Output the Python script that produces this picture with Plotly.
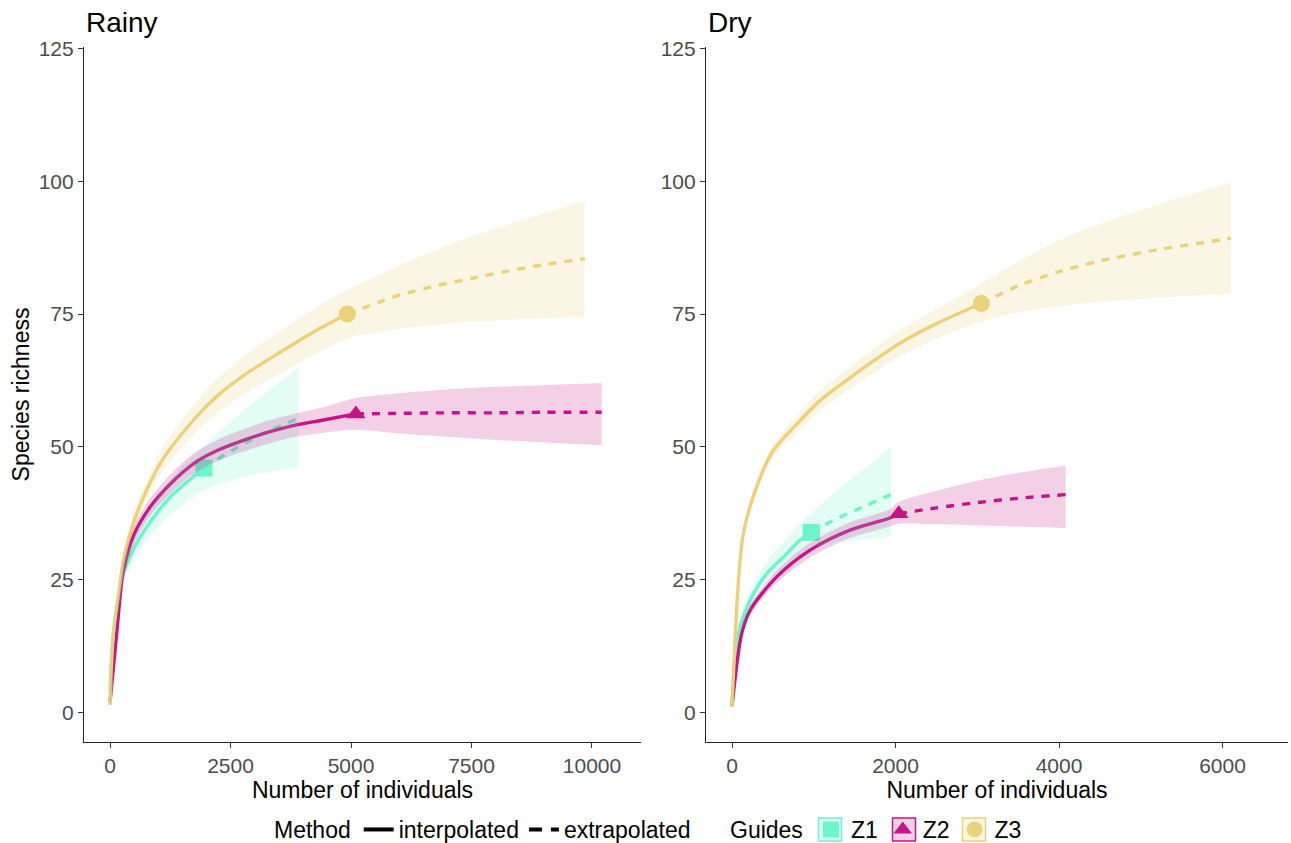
import plotly.graph_objects as go

W, H = 1291, 843

# ---------------- data ----------------
# Rainy season
rainy_z1_x = [1, 69, 173, 277, 500, 760, 1245, 1600, 1950, 2400, 2900, 3400, 3900]
rainy_z1_y = [4.2, 14.8, 21.1, 26.1, 31.0, 34.9, 40.5, 43.4, 46.0, 48.6, 51.2, 53.4, 55.3]
rainy_z1_lo = [3.0, 13.5, 19.5, 24.3, 28.8, 32.3, 37.2, 39.6, 41.8, 43.3, 44.6, 45.5, 46.2]
rainy_z1_hi = [5.4, 16.1, 22.7, 27.9, 33.2, 37.5, 43.8, 47.2, 50.2, 53.9, 57.8, 61.3, 64.7]
rainy_z1_obs = 1950

rainy_z2_x = [1, 138, 277, 500, 830, 1250, 1728, 2200, 2766, 3300, 3803, 4400, 5100, 6000, 7000, 8000, 9000, 10200]
rainy_z2_y = [2.0, 14.8, 26.7, 33.5, 38.6, 43.0, 46.8, 49.2, 51.2, 52.8, 54.0, 55.0, 56.2, 56.3, 56.4, 56.4, 56.5, 56.5]
rainy_z2_lo = [1.0, 13.3, 25.0, 31.8, 36.9, 41.2, 44.9, 47.2, 49.1, 50.6, 51.8, 52.6, 53.2, 52.5, 51.9, 51.3, 50.8, 50.3]
rainy_z2_hi = [3.0, 16.3, 28.4, 35.2, 40.3, 44.8, 48.7, 51.2, 53.3, 55.0, 56.2, 57.4, 59.2, 60.1, 60.8, 61.3, 61.6, 62.0]
rainy_z2_obs = 5100

rainy_z3_x = [1, 69, 207, 277, 553, 1037, 1728, 2213, 2800, 3527, 4200, 4925, 5600, 6017, 6800, 7500, 8200, 9000, 9850]
rainy_z3_y = [1.4, 14.8, 24.2, 28.6, 37.4, 46.8, 55.0, 59.5, 63.6, 67.8, 71.5, 75.0, 77.3, 78.6, 80.4, 81.7, 83.0, 84.3, 85.4]
rainy_z3_lo = [1.0, 14.0, 23.2, 27.4, 35.8, 44.6, 52.2, 56.3, 60.0, 63.8, 67.2, 70.4, 71.7, 72.3, 73.0, 73.5, 73.9, 74.2, 74.5]
rainy_z3_hi = [1.8, 15.6, 25.2, 29.8, 39.0, 49.0, 57.8, 62.7, 67.2, 71.8, 75.8, 79.6, 82.4, 84.2, 87.2, 89.6, 91.7, 94.0, 96.3]
rainy_z3_obs = 4925

# Dry season
dry_z1_x = [1, 78, 220, 424, 628, 832, 970, 1300, 1650, 1945]
dry_z1_y = [2.0, 14.8, 21.0, 26.1, 29.2, 32.4, 33.9, 36.6, 39.0, 41.0]
dry_z1_lo = [1.2, 13.5, 19.4, 24.2, 27.0, 29.7, 31.0, 32.0, 32.6, 33.0]
dry_z1_hi = [2.8, 16.1, 22.8, 28.3, 32.0, 35.6, 37.5, 42.0, 46.2, 50.0]
dry_z1_obs = 970

dry_z2_x = [1, 118, 220, 546, 950, 1443, 1912, 2040, 2500, 3000, 3500, 4080]
dry_z2_y = [1.2, 14.8, 19.2, 25.5, 30.5, 34.3, 36.5, 37.4, 38.5, 39.5, 40.3, 41.0]
dry_z2_lo = [1.0, 14.0, 18.3, 24.3, 29.1, 32.8, 34.9, 35.5, 35.4, 35.2, 35.0, 34.7]
dry_z2_hi = [1.4, 15.6, 20.1, 26.7, 31.9, 35.8, 38.1, 39.6, 41.7, 43.6, 45.1, 46.5]
dry_z2_obs = 2040

dry_z3_x = [1, 138, 322, 505, 832, 1076, 1443, 2055, 2500, 3050, 3500, 4000, 4500, 5235, 5700, 6104]
dry_z3_y = [1.0, 33.6, 43.3, 49.3, 54.9, 58.7, 63.0, 69.5, 73.2, 77.0, 80.3, 83.0, 85.0, 87.2, 88.3, 89.3]
dry_z3_lo = [0.8, 32.8, 42.2, 48.0, 53.2, 56.8, 60.9, 67.0, 70.4, 73.6, 75.3, 76.5, 77.3, 78.1, 78.5, 78.8]
dry_z3_hi = [1.2, 34.4, 44.4, 50.6, 56.6, 60.6, 65.1, 72.0, 75.9, 80.8, 84.8, 88.9, 92.0, 95.8, 97.9, 99.7]
dry_z3_obs = 3050

groups = ["Z1", "Z2", "Z3"]
rainy_x_ticks = [0, 2500, 5000, 7500, 10000]
dry_x_ticks = [0, 2000, 4000, 6000]
y_ticks = [0, 25, 50, 75, 100, 125]

# ---------------- styling ----------------
COL = {"Z1": "#6CF5C8", "Z2": "#C71585", "Z3": "#E9D37A"}
FILL = {"Z1": "rgba(108,245,200,0.2)", "Z2": "rgba(199,21,133,0.2)", "Z3": "rgba(233,211,122,0.2)"}
SYM = {"Z1": "square", "Z2": "triangle-up", "Z3": "circle"}
FONT = "Liberation Sans, Arial, sans-serif"
DASH = "8px,8px"
LW = 3.4

# plot-area geometry (pixels)
ML, MR, MT, MB = 84, 3, 47, 101
PW, PH = W - ML - MR, H - MT - MB


def px_x(p):
    return (p - ML) / PW


def px_y(p):
    return (H - MB - p) / PH


panels = [
    ("x", "y", {
        "Z1": (rainy_z1_x, rainy_z1_y, rainy_z1_lo, rainy_z1_hi, rainy_z1_obs),
        "Z2": (rainy_z2_x, rainy_z2_y, rainy_z2_lo, rainy_z2_hi, rainy_z2_obs),
        "Z3": (rainy_z3_x, rainy_z3_y, rainy_z3_lo, rainy_z3_hi, rainy_z3_obs),
    }),
    ("x2", "y2", {
        "Z1": (dry_z1_x, dry_z1_y, dry_z1_lo, dry_z1_hi, dry_z1_obs),
        "Z2": (dry_z2_x, dry_z2_y, dry_z2_lo, dry_z2_hi, dry_z2_obs),
        "Z3": (dry_z3_x, dry_z3_y, dry_z3_lo, dry_z3_hi, dry_z3_obs),
    }),
]

fig = go.Figure()

for xa, ya, d in panels:
    for g in groups:
        xs, ys, lo, hi, obs = d[g]
        i = xs.index(obs)
        fig.add_trace(go.Scatter(x=[xs[i]], y=[ys[i]], xaxis=xa, yaxis=ya, mode="markers",
                                 marker=dict(symbol=SYM[g], size=17, color=COL[g], line=dict(width=0)),
                                 showlegend=False, hoverinfo="skip"))
    for g in groups:
        xs, ys, lo, hi, obs = d[g]
        i = xs.index(obs)
        fig.add_trace(go.Scatter(x=xs[:i + 1], y=ys[:i + 1], xaxis=xa, yaxis=ya, mode="lines",
                                 line=dict(color=COL[g], width=LW, shape="spline", smoothing=0.8),
                                 showlegend=False, hoverinfo="skip"))
        fig.add_trace(go.Scatter(x=xs[i:], y=ys[i:], xaxis=xa, yaxis=ya, mode="lines",
                                 line=dict(color=COL[g], width=LW, dash=DASH, shape="spline", smoothing=0.8),
                                 showlegend=False, hoverinfo="skip"))
    for g in groups:
        xs, ys, lo, hi, obs = d[g]
        fig.add_trace(go.Scatter(x=xs, y=lo, xaxis=xa, yaxis=ya, mode="lines",
                                 line=dict(width=0, shape="spline", smoothing=0.8, color=COL[g]),
                                 showlegend=False, hoverinfo="skip"))
        fig.add_trace(go.Scatter(x=xs, y=hi, xaxis=xa, yaxis=ya, mode="lines", fill="tonexty",
                                 fillcolor=FILL[g],
                                 line=dict(width=0, shape="spline", smoothing=0.8, color=COL[g]),
                                 showlegend=False, hoverinfo="skip"))

# legend: Method
fig.add_trace(go.Scatter(x=[None], y=[None], mode="lines", name="interpolated",
                         line=dict(color="black", width=4), legend="legend"))
fig.add_trace(go.Scatter(x=[None], y=[None], mode="lines", name="extrapolated",
                         line=dict(color="black", width=4, dash="13px,9px"), legend="legend"))
# legend: Guides
for g in groups:
    fig.add_trace(go.Scatter(x=[None], y=[None], mode="markers", name=g,
                             marker=dict(symbol=SYM[g], size=16, color=COL[g]),
                             legend="legend2"))

# key boxes behind the Guides legend symbols
key_centers = {"Z1": 830, "Z2": 904, "Z3": 974}
shapes = []
for g in groups:
    c = key_centers[g]
    shapes.append(dict(type="rect", xref="paper", yref="paper",
                       x0=px_x(c - 11.5), x1=px_x(c + 11.5), y0=px_y(841), y1=px_y(818),
                       line=dict(color=COL[g], width=1.5), fillcolor=FILL[g], layer="above"))

axis_common = dict(showline=True, linecolor="#222222", linewidth=1.2, ticks="outside",
                   ticklen=5, tickwidth=1.2, tickcolor="#333333", showgrid=False, zeroline=False,
                   automargin=False,
                   tickfont=dict(family=FONT, size=21, color="#4D4D4D"))
title_font = dict(family=FONT, size=23, color="black")
leg_font = dict(family=FONT, size=23, color="black")

fig.update_layout(
    width=W, height=H,
    margin=dict(l=ML, r=MR, t=MT, b=MB, autoexpand=False),
    paper_bgcolor="white", plot_bgcolor="white",
    font=dict(family=FONT, color="black"),
    xaxis=dict(domain=[0, px_x(641)], range=[-540, 11017], tickvals=rainy_x_ticks,
               ticktext=[str(v) for v in rainy_x_ticks],
               anchor="y", title=dict(text="Number of individuals", standoff=2, font=title_font), **axis_common),
    yaxis=dict(domain=[0, 1], range=[-5.6, 125.3], tickvals=y_ticks, ticktext=[str(v) for v in y_ticks],
               anchor="x", title=dict(text="Species richness", standoff=2, font=title_font), **axis_common),
    xaxis2=dict(domain=[px_x(706), 1], range=[-318, 6801], tickvals=dry_x_ticks,
                ticktext=[str(v) for v in dry_x_ticks],
                anchor="y2", title=dict(text="Number of individuals", standoff=2, font=title_font), **axis_common),
    yaxis2=dict(domain=[0, 1], range=[-5.6, 125.3], tickvals=y_ticks, ticktext=[str(v) for v in y_ticks],
                anchor="x2", **axis_common),
    legend=dict(orientation="h", x=px_x(272), xanchor="left", y=px_y(829.5), yanchor="middle",
                title=dict(text="Method", font=leg_font), font=leg_font, itemwidth=30,
                traceorder="normal", bgcolor="rgba(0,0,0,0)"),
    legend2=dict(orientation="h", x=px_x(728), xanchor="left", y=px_y(829.5), yanchor="middle",
                 title=dict(text="Guides", font=leg_font), font=leg_font, itemwidth=30,
                 traceorder="normal", bgcolor="rgba(0,0,0,0)"),
    shapes=shapes,
    annotations=[
        dict(text="Rainy", x=px_x(84), y=px_y(22), xref="paper", yref="paper", xanchor="left",
             yanchor="middle", showarrow=False, font=dict(family=FONT, size=28, color="black")),
        dict(text="Dry", x=px_x(706), y=px_y(22), xref="paper", yref="paper", xanchor="left",
             yanchor="middle", showarrow=False, font=dict(family=FONT, size=28, color="black")),
    ],
)

fig.write_html("out.html", config={"displayModeBar": False},
               post_script="document.body.style.margin='0px';document.body.style.overflow='hidden';")
